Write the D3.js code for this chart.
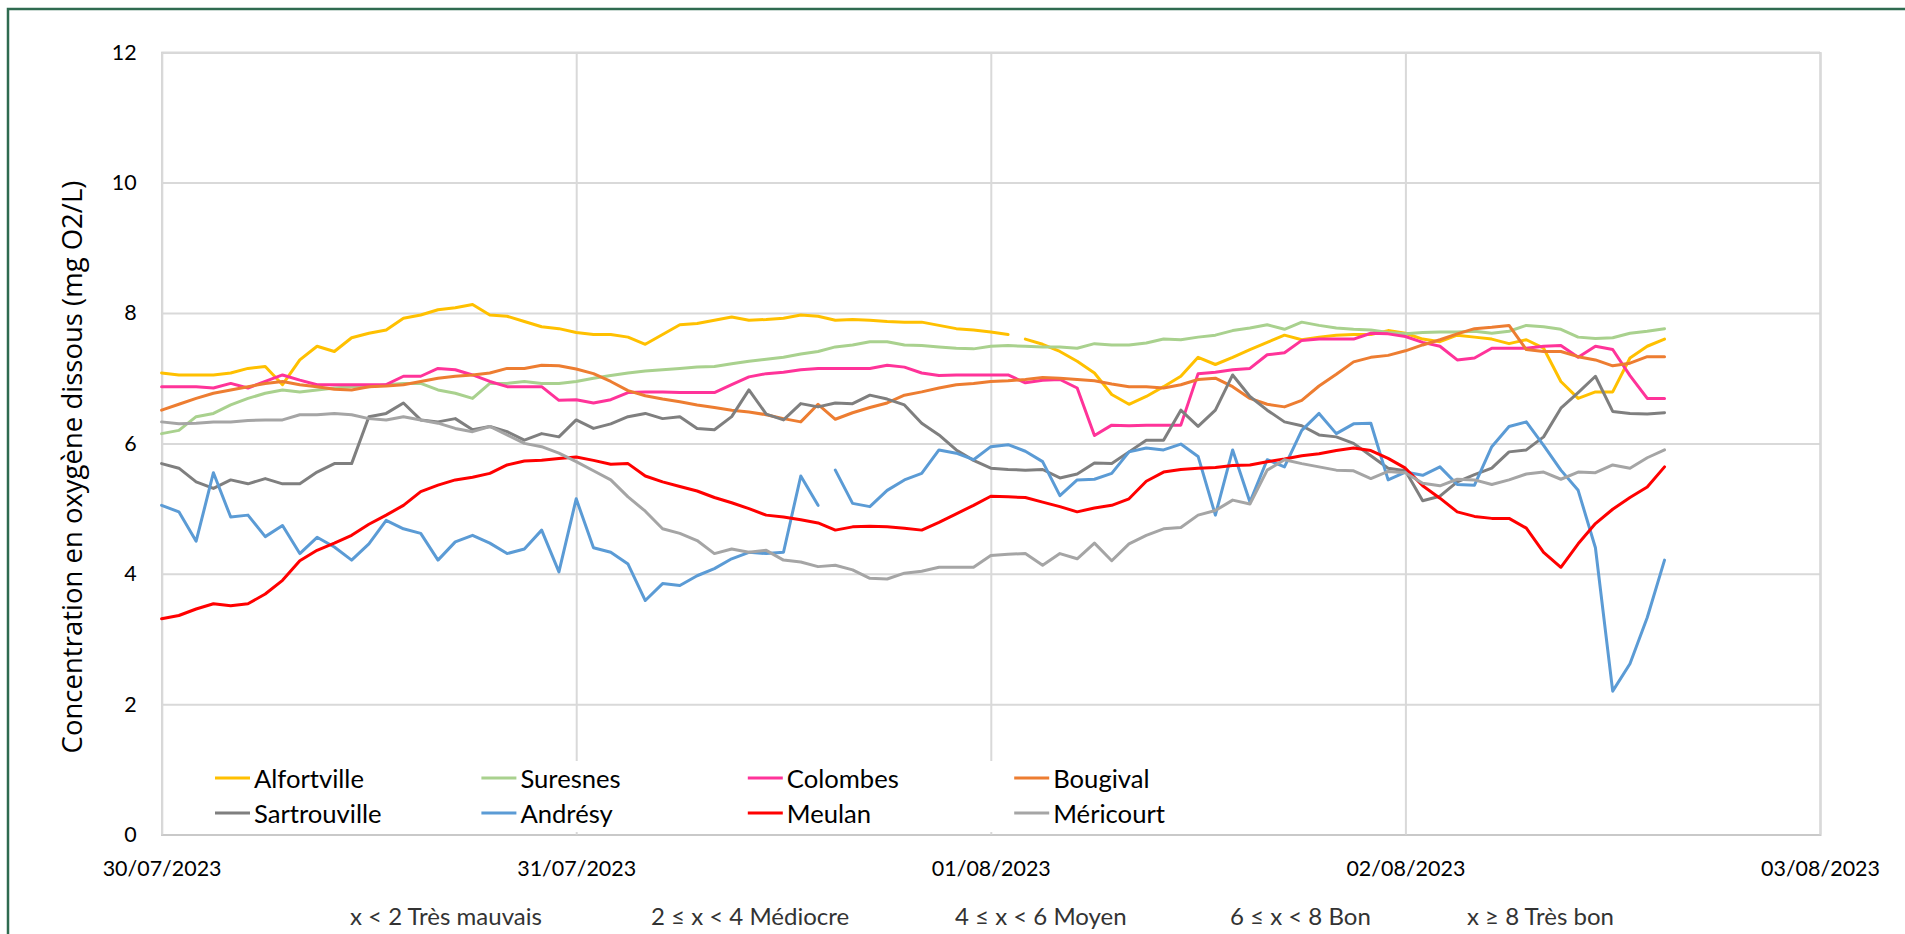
<!DOCTYPE html>
<html>
<head>
<meta charset="utf-8">
<script src="https://cdn.jsdelivr.net/npm/d3@7"></script>
<style>
    body { margin: 0; background: #ffffff; overflow: hidden; }
    svg { display: block; }
</style>
</head>
<body>
<svg id="chart" width="1905" height="934"></svg>
<script>
// DATA
// stations in legend order (row 1 then row 2)
var stations = ['Alfortville', 'Suresnes', 'Colombes', 'Bougival', 'Sartrouville', 'Andrésy', 'Meulan', 'Méricourt'];
var stationColors = ['#FFC000', '#A9D18E', '#FF3399', '#ED7D31', '#7F7F7F', '#5B9BD5', '#FF0000', '#A5A5A5'];

// hourly readings from 30/07/2023 00:00
var startTime = new Date(2023, 6, 30, 0, 0);
var hours = d3.range(0, 88);

var alfortville = [7.08, 7.05, 7.05, 7.05, 7.08, 7.15, 7.18, 6.9, 7.28, 7.49,
    7.41, 7.62, 7.69, 7.74, 7.92, 7.97, 8.05, 8.08, 8.13, 7.97,
    7.95, 7.87, 7.79, 7.76, 7.7, 7.67, 7.67, 7.63, 7.52, 7.67,
    7.82, 7.84, 7.89, 7.94, 7.89, 7.9, 7.92, 7.97, 7.95, 7.89,
    7.9, 7.89, 7.87, 7.86, 7.86, 7.81, 7.76, 7.74, 7.71, 7.67,
    7.6, 7.52, 7.41, 7.26, 7.08, 6.75, 6.6, 6.72, 6.87, 7.03,
    7.32, 7.21, 7.32, 7.44, 7.55, 7.66, 7.59, 7.63, 7.66, 7.67,
    7.67, 7.73, 7.69, 7.6, 7.56, 7.66, 7.63, 7.6, 7.53, 7.59,
    7.46, 6.95, 6.69, 6.79, 6.79, 7.31, 7.49, 7.6];
var suresnes = [6.15, 6.2, 6.41, 6.46, 6.59, 6.69, 6.77, 6.82, 6.79, 6.82,
    6.85, 6.87, 6.87, 6.9, 6.92, 6.92, 6.82, 6.77, 6.69, 6.92,
    6.92, 6.95, 6.92, 6.92, 6.95, 7.0, 7.04, 7.08, 7.11, 7.13,
    7.15, 7.17, 7.18, 7.22, 7.26, 7.29, 7.32, 7.37, 7.41, 7.48,
    7.51, 7.56, 7.56, 7.51, 7.5, 7.48, 7.46, 7.45, 7.49, 7.5,
    7.49, 7.48, 7.48, 7.46, 7.53, 7.51, 7.51, 7.54, 7.6, 7.59,
    7.63, 7.66, 7.73, 7.77, 7.82, 7.75, 7.86, 7.81, 7.77, 7.75,
    7.74, 7.7, 7.68, 7.7, 7.71, 7.71, 7.72, 7.69, 7.72, 7.81,
    7.79, 7.75, 7.63, 7.61, 7.62, 7.69, 7.72, 7.76];
var colombes = [6.87, 6.87, 6.87, 6.85, 6.92, 6.85, 6.95, 7.05, 6.97, 6.9,
    6.9, 6.9, 6.9, 6.9, 7.03, 7.03, 7.15, 7.13, 7.05, 6.95,
    6.87, 6.87, 6.87, 6.66, 6.67, 6.62, 6.67, 6.78, 6.79, 6.79,
    6.78, 6.78, 6.78, 6.9, 7.02, 7.07, 7.09, 7.13, 7.15, 7.15,
    7.15, 7.15, 7.2, 7.17, 7.08, 7.04, 7.05, 7.05, 7.05, 7.05,
    6.93, 6.97, 6.98, 6.85, 6.12, 6.28, 6.27, 6.28, 6.28, 6.28,
    7.07, 7.09, 7.13, 7.15, 7.36, 7.39, 7.58, 7.6, 7.6, 7.6,
    7.69, 7.68, 7.64, 7.55, 7.49, 7.28, 7.31, 7.46, 7.46, 7.46,
    7.49, 7.5, 7.32, 7.49, 7.44, 7.04, 6.69, 6.69];
var bougival = [6.51, 6.6, 6.69, 6.77, 6.82, 6.87, 6.92, 6.95, 6.9, 6.87,
    6.83, 6.82, 6.87, 6.88, 6.9, 6.95, 7.0, 7.03, 7.05, 7.08,
    7.15, 7.15, 7.2, 7.19, 7.14, 7.07, 6.95, 6.81, 6.73, 6.68,
    6.64, 6.59, 6.55, 6.51, 6.48, 6.44, 6.38, 6.33, 6.6, 6.37,
    6.47, 6.55, 6.62, 6.74, 6.79, 6.85, 6.9, 6.92, 6.95, 6.96,
    6.98, 7.01, 7.0, 6.98, 6.96, 6.91, 6.87, 6.87, 6.85, 6.9,
    6.98, 7.0, 6.87, 6.69, 6.6, 6.56, 6.66, 6.88, 7.06, 7.25,
    7.32, 7.35, 7.42, 7.51, 7.59, 7.68, 7.76, 7.78, 7.81, 7.44,
    7.41, 7.41, 7.33, 7.28, 7.19, 7.23, 7.33, 7.33];
var sartrouville = [5.69, 5.62, 5.41, 5.31, 5.44, 5.38, 5.46, 5.38, 5.38, 5.56,
    5.69, 5.69, 6.41, 6.46, 6.62, 6.36, 6.33, 6.38, 6.21, 6.26,
    6.18, 6.05, 6.15, 6.1, 6.36, 6.23, 6.3, 6.41, 6.46, 6.38,
    6.41, 6.23, 6.21, 6.41, 6.82, 6.45, 6.36, 6.61, 6.56, 6.62,
    6.61, 6.74, 6.68, 6.59, 6.31, 6.13, 5.9, 5.74, 5.62, 5.6,
    5.59, 5.6, 5.47, 5.53, 5.7, 5.69, 5.87, 6.05, 6.05, 6.51,
    6.26, 6.51, 7.05, 6.72, 6.51, 6.33, 6.27, 6.13, 6.1, 6.0,
    5.81, 5.62, 5.58, 5.12, 5.19, 5.41, 5.52, 5.62, 5.87, 5.9,
    6.1, 6.54, 6.78, 7.03, 6.49, 6.46, 6.45, 6.47];
var andresy = [5.05, 4.95, 4.5, 5.55, 4.87, 4.9, 4.57, 4.74, 4.31, 4.56,
    4.41, 4.21, 4.46, 4.82, 4.69, 4.62, 4.21, 4.49, 4.59, 4.47,
    4.31, 4.38, 4.67, 4.03, 5.15, 4.4, 4.33, 4.15, 3.59, 3.85,
    3.82, 3.97, 4.08, 4.23, 4.33, 4.31, 4.33, 5.5, 5.05, 5.59,
    5.08, 5.03, 5.28, 5.44, 5.54, 5.9, 5.85, 5.75, 5.95, 5.98,
    5.88, 5.72, 5.2, 5.44, 5.45, 5.54, 5.87, 5.93, 5.9, 5.99,
    5.8, 4.9, 5.9, 5.1, 5.75, 5.64, 6.2, 6.46, 6.15, 6.3,
    6.31, 5.44, 5.56, 5.51, 5.64, 5.37, 5.36, 5.95, 6.26, 6.33,
    5.97, 5.59, 5.28, 4.4, 2.2, 2.62, 3.33, 4.21];
var meulan = [3.31, 3.36, 3.46, 3.54, 3.51, 3.54, 3.69, 3.9, 4.2, 4.36,
    4.47, 4.59, 4.76, 4.9, 5.05, 5.26, 5.36, 5.44, 5.48, 5.54,
    5.67, 5.73, 5.74, 5.77, 5.79, 5.74, 5.68, 5.69, 5.5, 5.41,
    5.34, 5.27, 5.17, 5.09, 5.0, 4.9, 4.87, 4.83, 4.78, 4.67,
    4.72, 4.73, 4.72, 4.7, 4.67, 4.79, 4.92, 5.05, 5.19, 5.18,
    5.17, 5.1, 5.03, 4.95, 5.01, 5.05, 5.15, 5.42, 5.56, 5.6,
    5.62, 5.63, 5.66, 5.67, 5.72, 5.76, 5.81, 5.84, 5.89, 5.93,
    5.89, 5.77, 5.62, 5.35, 5.16, 4.95, 4.88, 4.85, 4.85, 4.7,
    4.33, 4.1, 4.46, 4.77, 4.99, 5.17, 5.33, 5.64];
var mericourt = [6.33, 6.3, 6.31, 6.33, 6.33, 6.35, 6.36, 6.36, 6.44, 6.44,
    6.46, 6.44, 6.38, 6.36, 6.41, 6.36, 6.31, 6.23, 6.18, 6.26,
    6.13, 6.0, 5.95, 5.85, 5.72, 5.58, 5.44, 5.18, 4.96, 4.69,
    4.62, 4.51, 4.31, 4.38, 4.33, 4.36, 4.21, 4.18, 4.11, 4.13,
    4.06, 3.93, 3.92, 4.01, 4.04, 4.1, 4.1, 4.1, 4.28, 4.3,
    4.31, 4.13, 4.31, 4.23, 4.47, 4.2, 4.46, 4.59, 4.69, 4.71,
    4.9, 4.97, 5.13, 5.07, 5.59, 5.75, 5.69, 5.64, 5.59, 5.58,
    5.46, 5.57, 5.55, 5.39, 5.35, 5.45, 5.44, 5.37, 5.44, 5.53,
    5.56, 5.45, 5.56, 5.55, 5.67, 5.62, 5.78, 5.9];

var stationValues = [alfortville, suresnes, colombes, bougival, sartrouville, andresy, meulan, mericourt];
// line is broken after these hour indexes (missing readings)
var gapsAfter = { 'Alfortville': [49], 'Andrésy': [38] };

var yTicks = [0, 2, 4, 6, 8, 10, 12];
var dateTicks = [new Date(2023, 6, 30), new Date(2023, 6, 31), new Date(2023, 7, 1), new Date(2023, 7, 2), new Date(2023, 7, 3)];
var qualityClasses = ['x < 2 Très mauvais', '2 ≤ x < 4 Médiocre', '4 ≤ x < 6 Moyen', '6 ≤ x < 8 Bon', 'x ≥ 8 Très bon'];
var yTitle = 'Concentration en oxygène dissous (mg O2/L)';

//.................................................................................................//
// LAYOUT
var plotLeft = 161.6, plotRight = 1820, plotTop = 52.2, plotBottom = 834.6;
var classX = [350, 651, 955, 1230, 1467];
var labelFont = 'Lato, "Open Sans", sans-serif';

var svg = d3.select('#chart');

// font size so that a sample text takes a given width
function fitFont(sample, width, family) {
    var t = svg.append('text').style('font-family', family).style('font-size', '100px').text(sample);
    var w = t.node().getComputedTextLength();
    t.remove();
    return 100 * width / w;
}
var tickSize = fitFont('30/07/2023', 119, labelFont);
var legendSize = fitFont('Alfortville', 110, labelFont);
var classSize = fitFont('x < 2 Très mauvais', 192, labelFont);
var titleSize = fitFont(yTitle, 573, '"Open Sans", sans-serif');

//.................................................................................................//
// OUTER FRAME
svg.append('rect')
    .attr('x', 8).attr('y', 9)
    .attr('width', 2000).attr('height', 1000)
    .style('fill', 'none')
    .style('stroke', '#2f6b50')
    .style('stroke-width', 2.5);

//.................................................................................................//
// SCALES & AXES
var x = d3.scaleTime().domain([dateTicks[0], dateTicks[dateTicks.length - 1]]).range([plotLeft, plotRight]);
var y = d3.scaleLinear().domain([0, 12]).range([plotBottom, plotTop]);

var yAxis = svg.append('g')
    .attr('transform', 'translate(' + plotLeft + ',0)')
    .call(d3.axisLeft(y).tickValues(yTicks).tickSize(-(plotRight - plotLeft)).tickPadding(25).tickFormat(d3.format('d')));

var xAxis = svg.append('g')
    .attr('transform', 'translate(0,' + plotBottom + ')')
    .call(d3.axisBottom(x).tickValues(dateTicks).tickSize(-(plotBottom - plotTop)).tickPadding(26).tickFormat(d3.timeFormat('%d/%m/%Y')));

[xAxis, yAxis].forEach(function(ax) {
    ax.selectAll('.tick line').style('stroke', '#d9d9d9').style('stroke-width', 2);
    ax.selectAll('.tick text')
        .style('font-family', labelFont)
        .style('font-size', tickSize + 'px')
        .style('fill', '#000');
    ax.select('.domain').style('stroke', '#c9c9c9').style('stroke-width', 2);
});

// Y title
svg.append('text')
    .attr('transform', 'translate(71,467) rotate(-90)')
    .attr('text-anchor', 'middle')
    .attr('dominant-baseline', 'central')
    .style('font-family', '"Open Sans", sans-serif')
    .style('font-size', titleSize + 'px')
    .style('fill', '#000')
    .text(yTitle);

//.................................................................................................//
// LINES
var line = d3.line()
    .defined(function(d) { return d !== null; })
    .x(function(d) { return x(d.time); })
    .y(function(d) { return y(d.value); });

stations.forEach(function(name, s) {
    var pts = [];
    var gaps = gapsAfter[name] || [];
    hours.forEach(function(h, i) {
        pts.push({ time: d3.timeHour.offset(startTime, h), value: stationValues[s][i] });
        if (gaps.indexOf(h) >= 0) pts.push(null);
    });
    svg.append('path')
        .datum(pts)
        .attr('d', line)
        .style('fill', 'none')
        .style('stroke', stationColors[s])
        .style('stroke-width', 3)
        .style('stroke-linejoin', 'round')
        .style('stroke-linecap', 'round');
});

//.................................................................................................//
// LEGEND
svg.append('rect')
    .attr('x', 205).attr('y', 761)
    .attr('width', 985).attr('height', 71)
    .style('fill', '#fff');

var legendItems = svg.append('g').selectAll('g')
    .data(stations)
    .join('g')
    .attr('transform', function(d, i) {
        return 'translate(' + (215 + (i % 4) * 266.4) + ',' + (778 + Math.floor(i / 4) * 35) + ')';
    });
legendItems.append('line')
    .attr('x1', 0).attr('x2', 35)
    .style('stroke', function(d, i) { return stationColors[i]; })
    .style('stroke-width', 3);
legendItems.append('text')
    .attr('x', 39)
    .attr('dominant-baseline', 'central')
    .style('font-family', labelFont)
    .style('font-size', legendSize + 'px')
    .style('fill', '#000')
    .text(function(d) { return d; });

//.................................................................................................//
// QUALITY CLASSES
svg.append('g').selectAll('text')
    .data(qualityClasses)
    .join('text')
    .attr('x', function(d, i) { return classX[i]; })
    .attr('y', 915)
    .attr('dominant-baseline', 'central')
    .style('font-family', labelFont)
    .style('font-size', classSize + 'px')
    .style('fill', '#333')
    .text(function(d) { return d; });
</script>
</body>
</html>
